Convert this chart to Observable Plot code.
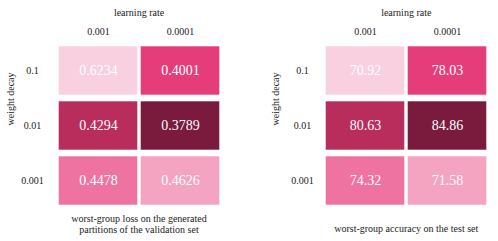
<!DOCTYPE html>
<html>
<head>
<meta charset="utf-8">
<script src="https://cdn.jsdelivr.net/npm/d3@7"></script>
<script src="https://cdn.jsdelivr.net/npm/@observablehq/plot@0.6"></script>
<style>
  body { margin: 0; background: white; }
  #wrap { display: flex; width: 498px; height: 241px; }
  #wrap svg { display: block; }
  #wrap svg, #wrap svg text, #wrap svg g { font-family: "Liberation Serif", "Times New Roman", serif !important; }
</style>
</head>
<body>
<div id="wrap"></div>
<script>
const lrLabels = ["0.001", "0.0001"];
const wdLabels = ["0.1", "0.01", "0.001"];
const lossValues = [[0.6234, 0.4001], [0.4294, 0.3789], [0.4478, 0.4626]];
const accValues = [[70.92, 78.03], [80.63, 84.86], [74.32, 71.58]];
const lossCaption = "worst-group loss on the generated\npartitions of the validation set";
const accCaption = "worst-group accuracy on the test set";

const colorDomain = accValues.flat().slice().sort((a, b) => a - b);
const colorRange = ["#f8d0df", "#f4a3c0", "#ef73a0", "#e53c7a", "#b92d5c", "#7a1b3e"];
const FONT = "Liberation Serif";

function rows(values, fmt) {
  const out = [];
  wdLabels.forEach((wd, i) => lrLabels.forEach((lr, j) => {
    out.push({wd, lr, v: values[i][j], acc: accValues[i][j], label: fmt(values[i][j])});
  }));
  return out;
}

function panel({width, marginLeft, marginRight, yPad, yLabDx, data, caption, captionDy}) {
  return Plot.plot({
    width, height: 241,
    marginLeft, marginRight, marginTop: 42, marginBottom: 33,
    style: "font-family: 'Liberation Serif', serif; font-size: 10px; background: white; color: #222;",
    x: {domain: lrLabels, padding: 0, axis: null},
    y: {domain: wdLabels, padding: 0, axis: null},
    color: {type: "linear", domain: colorDomain, range: colorRange, interpolate: "rgb"},
    marks: [
      Plot.cell(data, {x: "lr", y: "wd", fill: "acc", insetLeft: 1.7, insetRight: 1.7, insetTop: 3.3, insetBottom: 3.3}),
      Plot.text(data, {x: "lr", y: "wd", text: "label", fill: "white", fontSize: 14, fontFamily: FONT}),
      Plot.axisX({anchor: "top", tickSize: 0, tickPadding: 8, label: null, fontFamily: FONT}),
      Plot.axisY({anchor: "left", tickSize: 0, tickPadding: yPad, textAnchor: "middle", label: null, fontFamily: FONT}),
      Plot.text(["learning rate"], {frameAnchor: "top", dy: -30, lineAnchor: "middle", text: d => d, fontFamily: FONT}),
      Plot.text(["weight decay"], {frameAnchor: "left", dx: yLabDx, rotate: -90, lineAnchor: "middle", text: d => d, fontFamily: FONT}),
      Plot.text([caption], {frameAnchor: "bottom", dy: captionDy, lineAnchor: "middle", lineHeight: 1.1, text: d => d, fontFamily: FONT})
    ]
  });
}

const wrap = document.getElementById("wrap");
wrap.append(panel({width: 250, marginLeft: 56, marginRight: 29, yPad: 24, yLabDx: -46,
  data: rows(lossValues, v => v.toFixed(4)), caption: lossCaption, captionDy: 15.5}));
wrap.append(panel({width: 248, marginLeft: 73, marginRight: 9.5, yPad: 21, yLabDx: -48,
  data: rows(accValues, v => v.toFixed(2)), caption: accCaption, captionDy: 20}));
</script>
</body>
</html>
